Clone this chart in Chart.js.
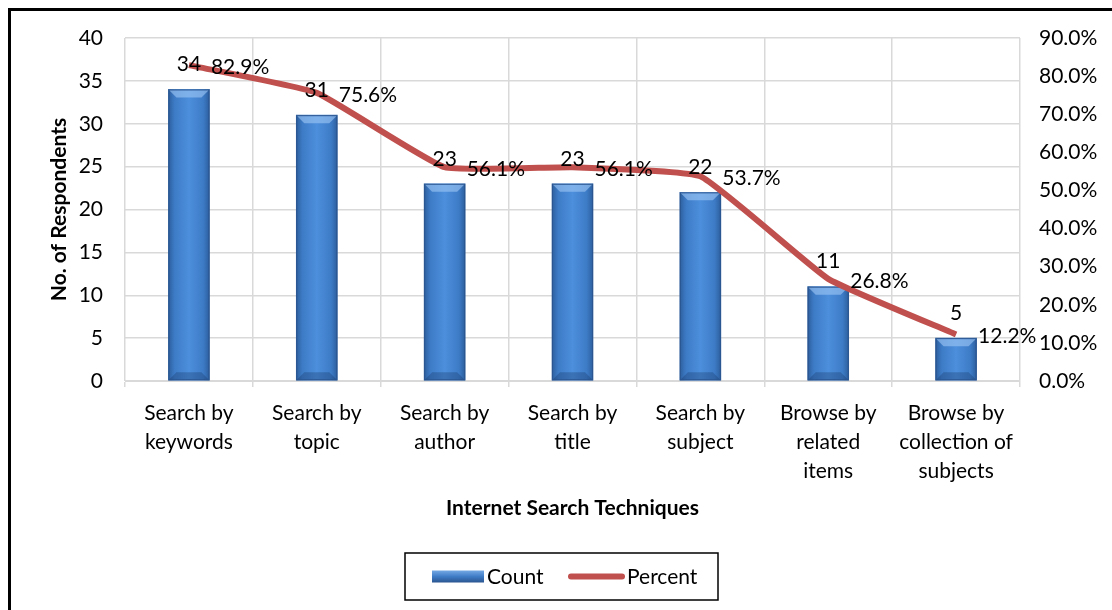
<!DOCTYPE html>
<html>
<head>
<meta charset="utf-8">
<script src="https://cdn.jsdelivr.net/npm/chart.js@4"></script>
<style>
  html, body { margin: 0; padding: 0; background: #fff; }
  #wrap { position: relative; width: 1112px; height: 610px; overflow: hidden; }
</style>
</head>
<body>
<div id="wrap"><canvas id="chart" width="1112" height="610"></canvas></div>
<script>
// Data
const categories = [
  ['Search by', 'keywords'],
  ['Search by', 'topic'],
  ['Search by', 'author'],
  ['Search by', 'title'],
  ['Search by', 'subject'],
  ['Browse by', 'related', 'items'],
  ['Browse by', 'collection of', 'subjects']
];
const counts = [34, 31, 23, 23, 22, 11, 5];
const percents = [82.9, 75.6, 56.1, 56.1, 53.7, 26.8, 12.2];
const countTicks = [0, 5, 10, 15, 20, 25, 30, 35, 40];
const percentTicks = [0, 10, 20, 30, 40, 50, 60, 70, 80, 90];

const FONT = 'Lato, "Open Sans", sans-serif';
const RED = '#C0504D';

// Bar gradient (cylinder look)
function barGradient(ctx, x0, x1) {
  const g = ctx.createLinearGradient(x0, 0, x1, 0);
  g.addColorStop(0, '#2d5f9e');
  g.addColorStop(0.15, '#3d7bc6');
  g.addColorStop(0.5, '#4d8fdc');
  g.addColorStop(0.85, '#3d7bc6');
  g.addColorStop(1, '#2d5f9e');
  return g;
}

// Outer frame + bevel + labels + legend
const extras = {
  id: 'extras',
  beforeDraw(chart) {
    const ctx = chart.ctx;
    ctx.save();
    ctx.strokeStyle = '#000';
    ctx.lineWidth = 3;
    ctx.strokeRect(9.5, 9.5, 3000, 3000);
    ctx.restore();
  },
  afterDatasetDraw(chart, args) {
    if (args.index !== 0) return;
    const ctx = chart.ctx;
    ctx.save();
    chart.getDatasetMeta(0).data.forEach(bar => {
      const l = bar.x - bar.width / 2, r = bar.x + bar.width / 2;
      const t = bar.y, b = bar.base;
      const d = Math.min(8, (b - t) / 2);
      // top bevel
      ctx.fillStyle = 'rgba(160,200,245,0.6)';
      ctx.beginPath();
      ctx.moveTo(l, t); ctx.lineTo(r, t); ctx.lineTo(r - d, t + d); ctx.lineTo(l + d, t + d);
      ctx.closePath(); ctx.fill();
      // bottom bevel
      ctx.fillStyle = 'rgba(20,50,95,0.3)';
      ctx.beginPath();
      ctx.moveTo(l, b); ctx.lineTo(r, b); ctx.lineTo(r - d, b - d); ctx.lineTo(l + d, b - d);
      ctx.closePath(); ctx.fill();
      ctx.strokeStyle = '#2a5590';
      ctx.lineWidth = 1;
      ctx.strokeRect(l + 0.5, t + 0.5, bar.width - 1, b - t - 1);
    });
    ctx.restore();
  },
  afterDraw(chart) {
    const ctx = chart.ctx;
    ctx.save();
    ctx.font = '21px ' + FONT;
    ctx.fillStyle = '#000';
    // count labels above bars
    const bars = chart.getDatasetMeta(0).data;
    ctx.textAlign = 'center';
    ctx.textBaseline = 'middle';
    bars.forEach((bar, i) => {
      ctx.fillText(String(counts[i]), bar.x, bar.y - 25);
    });
    // percent labels right of points
    const pts = chart.getDatasetMeta(1).data;
    ctx.textAlign = 'left';
    pts.forEach((p, i) => {
      ctx.fillText(percents[i].toFixed(1) + '%', p.x + 22, p.y + 2);
    });

    // legend
    const bx = 405, by = 553, bw = 313, bh = 47;
    ctx.strokeStyle = '#000';
    ctx.lineWidth = 1.5;
    ctx.strokeRect(bx, by, bw, bh);
    const cy = by + bh / 2;
    const lg = ctx.createLinearGradient(0, cy - 6, 0, cy + 6);
    lg.addColorStop(0, '#74a8e4');
    lg.addColorStop(0.5, '#3f7cc6');
    lg.addColorStop(1, '#2a5590');
    ctx.fillStyle = lg;
    ctx.fillRect(432, cy - 6, 52, 12);
    ctx.fillStyle = '#000';
    ctx.font = '21px ' + FONT;
    ctx.textBaseline = 'middle';
    ctx.fillText(chart.data.datasets[0].label, 487, cy + 1);
    ctx.strokeStyle = RED;
    ctx.lineWidth = 6;
    ctx.lineCap = 'round';
    ctx.beginPath();
    ctx.moveTo(571, cy); ctx.lineTo(622, cy);
    ctx.stroke();
    ctx.fillText(chart.data.datasets[1].label, 627, cy + 1);
    ctx.restore();
  }
};

new Chart(document.getElementById('chart'), {
  data: {
    labels: categories,
    datasets: [
      {
        type: 'bar',
        label: 'Count',
        data: counts,
        yAxisID: 'y',
        barThickness: 41,
        backgroundColor(c) {
          const x = c.chart.scales.x;
          if (!x || c.dataIndex === undefined) return '#3f7cc6';
          const cx = x.getPixelForValue(c.dataIndex);
          if (!Number.isFinite(cx)) return '#3f7cc6';
          return barGradient(c.chart.ctx, cx - 20.5, cx + 20.5);
        },
        order: 2
      },
      {
        type: 'line',
        label: 'Percent',
        data: percents,
        yAxisID: 'y1',
        borderColor: RED,
        backgroundColor: RED,
        borderWidth: 6,
        pointRadius: 0,
        tension: 0.12,
        order: 1
      }
    ]
  },
  options: {
    responsive: false,
    animation: false,
    layout: { padding: { top: 38, left: 0, right: 0, bottom: 79 } },
    plugins: { legend: { display: false }, tooltip: { enabled: false } },
    scales: {
      x: {
        grid: { color: '#d9d9d9', offset: true, tickLength: 6, lineWidth: 1.5 },
        border: { color: '#d9d9d9' },
        ticks: { color: '#000', font: { family: FONT, size: 21, lineHeight: 1.38 }, maxRotation: 0, autoSkip: false, padding: 12 },
        title: { display: true, text: 'Internet Search Techniques', color: '#000', font: { family: FONT, size: 21, weight: 'bold' }, padding: { top: 0, bottom: 10 } },
        afterFit(s) { s.height = 150; }
      },
      y: {
        position: 'left',
        min: 0, max: 40,
        afterBuildTicks(s) { s.ticks = countTicks.map(v => ({ value: v })); },
        grid: { color: '#d9d9d9', lineWidth: 1.5, drawTicks: false },
        border: { display: false },
        ticks: { color: '#000', font: { family: FONT, size: 21 }, padding: 22 },
        title: { display: true, text: 'No. of Respondents', color: '#000', font: { family: FONT, size: 21, weight: 'bold' }, padding: { top: 47, bottom: 0 } },
        afterFit(s) { s.width = 125; }
      },
      y1: {
        position: 'right',
        min: 0, max: 90,
        afterBuildTicks(s) { s.ticks = percentTicks.map(v => ({ value: v })); },
        grid: { display: false, drawTicks: false },
        border: { display: false },
        ticks: { color: '#000', font: { family: FONT, size: 21 }, padding: 19, callback: v => v.toFixed(1) + '%' },
        afterFit(s) { s.width = 92; }
      }
    }
  },
  plugins: [extras]
});
</script>
</body>
</html>
